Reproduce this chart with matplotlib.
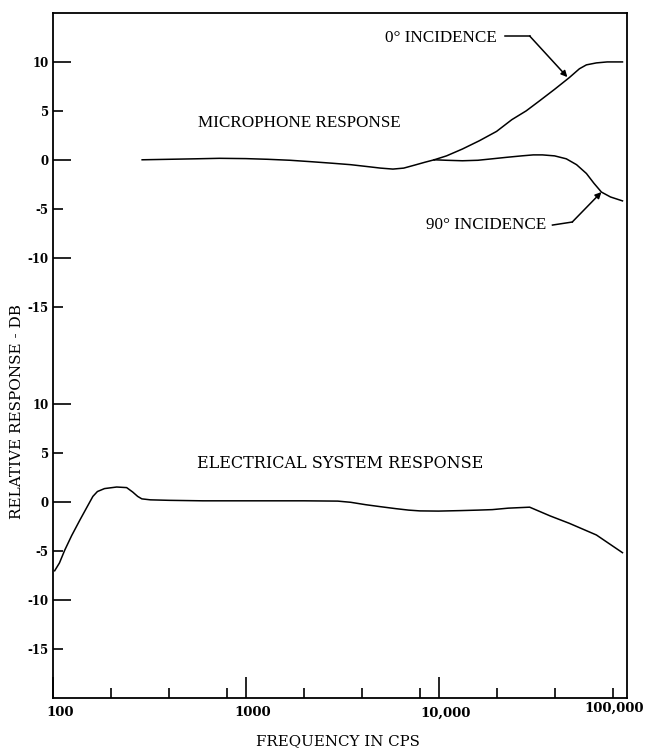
import numpy as np
import matplotlib.pyplot as plt
from matplotlib.transforms import ScaledTranslation, blended_transform_factory

# Response curves, frequency in cps / relative response in dB
mic_freq = [290, 400, 550, 730, 1000, 1300, 1700, 2200, 2800, 3500, 4300,
            5000, 5800, 6600, 7500, 8500, 9500]
mic_db = [0.0, 0.05, 0.1, 0.15, 0.12, 0.05, -0.05, -0.2, -0.35, -0.5, -0.7,
          -0.85, -0.95, -0.85, -0.55, -0.25, 0.0]

mic0_freq = [9500, 11000, 13300, 16300, 20000, 24000, 28500, 33300, 40000,
             47700, 53800, 58500, 65900, 75000, 90000]
mic0_db = [0.0, 0.4, 1.1, 1.95, 2.9, 4.1, 5.0, 6.0, 7.2, 8.4, 9.3, 9.7, 9.9,
           10.0, 10.0]

mic90_freq = [9500, 11000, 13300, 16000, 19000, 22500, 27000, 31000, 34600,
              40000, 46000, 52000, 58500, 64000, 70000, 78000, 90000]
mic90_db = [0.0, -0.05, -0.1, -0.05, 0.1, 0.25, 0.4, 0.5, 0.5, 0.4, 0.1,
            -0.5, -1.4, -2.4, -3.3, -3.8, -4.2]

elec_freq = [102, 108, 115, 125, 138, 150, 161, 170, 185, 214, 241, 259, 275,
             289, 320, 400, 600, 1000, 1500, 2000, 3000, 3500, 4200, 5000,
             6000, 7000, 8000, 10000, 13000, 16000, 19000, 23000, 29700,
             38000, 47700, 65900, 90000]
elec_db = [-7.0, -6.2, -4.9, -3.4, -1.8, -0.5, 0.6, 1.1, 1.4, 1.56, 1.5, 1.05,
           0.6, 0.35, 0.25, 0.2, 0.15, 0.15, 0.15, 0.15, 0.12, 0.0, -0.25,
           -0.45, -0.65, -0.8, -0.88, -0.9, -0.85, -0.8, -0.75, -0.6, -0.5,
           -1.4, -2.15, -3.34, -5.15]

# y tick labels for the two stacked scales (same labels on both)
scale_labels = ['10', '5', '0', '-5', '-10', '-15']
scale_values = [10, 5, 0, -5, -10, -15]
UPPER = 35  # upper scale sits 35 dB above the lower one on the shared axis

x_major = [100, 1000, 10000]
x_major_labels = ['100', '1000', '10,000']
x_minor = [200, 400, 800, 2000, 4000, 8000, 20000, 40000, 80000]

typew = 'DejaVu Serif'
serif = 'Liberation Serif'

fig = plt.figure(figsize=(6.47, 7.51), dpi=100)
ax = fig.add_axes([53 / 647, 53 / 751, 574 / 647, 685 / 751])

ax.set_xscale('log')
ax.set_xlim(100, 95000)
ax.set_ylim(-20, 50)

lw = 1.1
ax.plot(mic_freq, np.array(mic_db) + UPPER, color='black', lw=lw)
ax.plot(mic0_freq, np.array(mic0_db) + UPPER, color='black', lw=lw)
ax.plot(mic90_freq, np.array(mic90_db) + UPPER, color='black', lw=lw)
ax.plot(elec_freq, elec_db, color='black', lw=lw)

# y axis: long ticks at multiples of 10, short ticks at the 5s
vals = np.array(scale_values)
ticks = list(vals + UPPER) + list(vals)
labels = scale_labels + scale_labels
major = [(t, l) for t, v, l in zip(ticks, list(vals) * 2, labels) if v % 10 == 0]
minor = [(t, l) for t, v, l in zip(ticks, list(vals) * 2, labels) if v % 10 != 0]
ax.set_yticks([t for t, _ in major], labels=[l for _, l in major])
ax.set_yticks([t for t, _ in minor], labels=[l for _, l in minor], minor=True)

ax.set_xticks(x_major, labels=x_major_labels)
ax.set_xticks(x_minor, labels=[''] * len(x_minor), minor=True)

ax.tick_params(axis='both', which='both', direction='in', color='black',
               width=1.2, labelsize=8.5)
ax.tick_params(axis='y', which='major', length=13, pad=3)
ax.tick_params(axis='y', which='minor', length=7, pad=3)
ax.tick_params(axis='x', which='major', length=15, pad=6, labelsize=9.5)
ax.tick_params(axis='x', which='minor', length=7)
ax.tick_params(top=False, right=False, which='both')

for lab in ax.get_xticklabels() + ax.get_yticklabels(which='both'):
    lab.set_fontfamily(typew)
    lab.set_fontweight('bold')
for lab in ax.get_xticklabels():
    lab.set_transform(lab.get_transform() +
                      ScaledTranslation(7 / 100, 0, fig.dpi_scale_trans))

# last decade label sits inside the frame
bt = blended_transform_factory(ax.transData, ax.transAxes)
ax.text(81000, -0.0146, '100,000', transform=bt, ha='center', va='center',
        fontfamily=typew, fontweight='bold', fontsize=9.5)

for sp in ax.spines.values():
    sp.set_linewidth(1.3)

# curve captions
ax.text(1905, 38.8, 'MICROPHONE RESPONSE', ha='center', va='center',
        fontfamily=serif, fontsize=12.3)
ax.text(3070, 4.0, 'ELECTRICAL SYSTEM RESPONSE', ha='center', va='center',
        fontfamily=typew, fontsize=11.5)

ax.text(19950, 47.45, '0° INCIDENCE', ha='right', va='center',
        fontfamily=serif, fontsize=12.3)
ax.plot([22000, 29700], [47.65, 47.65], color='black', lw=1.1)
ax.annotate('', xy=(46600, 8.45 + UPPER), xytext=(29700, 47.65),
            arrowprops=dict(arrowstyle='-|>', color='black', lw=1.1,
                            mutation_scale=9, shrinkA=0, shrinkB=0))

ax.text(36300, 28.33, '90° INCIDENCE', ha='right', va='center',
        fontfamily=serif, fontsize=12.3)
ax.plot([39000, 49400], [28.33, 28.64], color='black', lw=1.1)
ax.annotate('', xy=(70000, -3.3 + UPPER), xytext=(49400, 28.64),
            arrowprops=dict(arrowstyle='-|>', color='black', lw=1.1,
                            mutation_scale=9, shrinkA=0, shrinkB=0))

fig.text(17 / 647, 1 - 412 / 751, 'RELATIVE RESPONSE - DB', rotation=90,
         ha='center', va='center', fontfamily=typew, fontsize=11)
fig.text(338 / 647, 1 - 741 / 751, 'FREQUENCY IN CPS', ha='center',
         va='center', fontfamily=typew, fontsize=10.8)

fig.savefig('out.png', dpi=100)
